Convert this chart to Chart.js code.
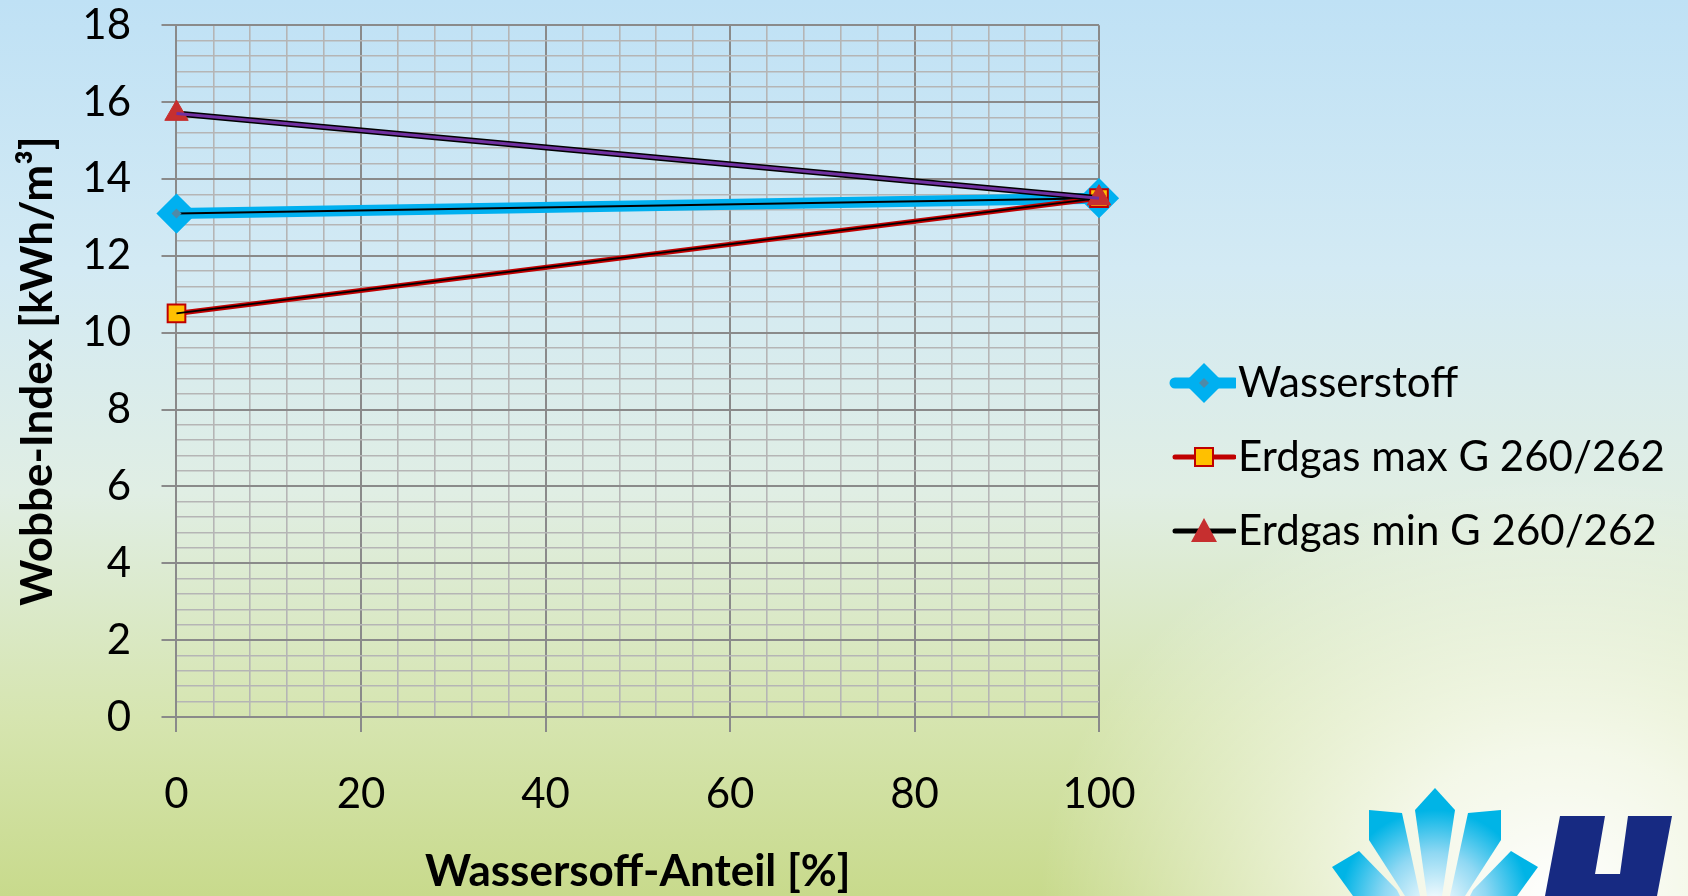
<!DOCTYPE html>
<html>
<head>
<meta charset="utf-8">
<script src="https://cdn.jsdelivr.net/npm/chart.js@4.4.1/dist/chart.umd.min.js"></script>
<style>
  html, body { margin: 0; padding: 0; }
  body {
    width: 1688px; height: 896px; overflow: hidden; position: relative;
    background:
      radial-gradient(ellipse 520px 420px at 1560px 896px, rgba(255,255,255,1) 0%, rgba(255,255,255,0.75) 35%, rgba(255,255,255,0) 100%),
      linear-gradient(to bottom, #bfe1f5 0%, #d3eaf4 30%, #e0eee4 55%, #d6e5b0 80%, #c8da8c 100%);
  }
  #logo { position: absolute; left: 0; top: 0; }
  #wrap { position: absolute; left: 0; top: 0; width: 1688px; height: 896px; }
</style>
</head>
<body>
<svg id="logo" width="1688" height="896">
  <defs>
    <radialGradient id="glow" cx="1435" cy="905" r="95" gradientUnits="userSpaceOnUse">
      <stop offset="0" stop-color="#ffffff"/>
      <stop offset="0.55" stop-color="#8fd8f3"/>
      <stop offset="1" stop-color="#00b4e6"/>
    </radialGradient>
  </defs>
  <g fill="url(#glow)">
    <polygon points="1435,788 1455,810 1442,896 1427,896 1415,810"/>
    <polygon points="1369,810 1402,813 1420,896 1405,896 1369,840"/>
    <polygon points="1332,867 1359,851 1397,890 1400,896 1353,896"/>
    <polygon points="1501,810 1468,813 1450,896 1465,896 1501,840"/>
    <polygon points="1538,867 1511,851 1473,890 1470,896 1517,896"/>
  </g>
  <polygon fill="#172a82" points="1560,816 1605,816 1595,874 1620,874 1628,816 1672,816 1657,896 1545,896"/>
</svg>
<div id="wrap"><canvas id="chart"></canvas></div>
<script>
// Werte
const xValues = [0, 100];
const wasserstoffValues = [13.1, 13.5];
const erdgasMaxValues = [10.5, 13.5];
const erdgasMinValues = [15.7, 13.5];
const seriesNames = ['Wasserstoff', 'Erdgas max G 260/262', 'Erdgas min G 260/262'];
const xMin = 0, xMax = 100, xMinorStep = 4, xMajorStep = 20;
const yMin = 0, yMax = 18, yMinorStep = 0.4, yMajorStep = 2;
const xTitle = 'Wassersoff-Anteil [%]';
const yTitle = 'Wobbe-Index [kWh/m³]';

const FONT = 'Lato';
const FS = 42;      // tick + legend
const TFS = 44;     // axis titles
Chart.defaults.font.family = FONT;
Chart.defaults.color = '#000';

const pts = vals => xValues.map((x, i) => ({ x: x, y: vals[i] }));
const isMajor = (v, step) => Math.abs(v / step - Math.round(v / step)) < 1e-6;

// measure text so the plot area lands where it is in the picture
const mctx = document.createElement('canvas').getContext('2d');
mctx.font = FS + 'px ' + FONT;
const legendTextW = Math.max(...seriesNames.map(s => mctx.measureText(s).width));
const yLabelW = mctx.measureText('18').width;

// legend icons: line segment plus marker, like the office legend
function legendIcon(kind) {
  const c = document.createElement('canvas');
  c.width = 124; c.height = 48;
  const g = c.getContext('2d');
  const cy = 24, x0 = 63, x1 = 122, mx = 92;
  g.lineCap = 'round';
  const seg = (color, w) => { g.strokeStyle = color; g.lineWidth = w; g.beginPath(); g.moveTo(x0, cy); g.lineTo(x1, cy); g.stroke(); };
  if (kind === 0) {
    seg('#00b0f0', 11);
    g.fillStyle = '#00b0f0';
    g.beginPath(); g.moveTo(mx, cy - 20); g.lineTo(mx + 20, cy); g.lineTo(mx, cy + 20); g.lineTo(mx - 20, cy); g.closePath(); g.fill();
    g.fillStyle = '#4f8aa8';
    g.beginPath(); g.moveTo(mx, cy - 5); g.lineTo(mx + 5, cy); g.lineTo(mx, cy + 5); g.lineTo(mx - 5, cy); g.closePath(); g.fill();
  } else if (kind === 1) {
    seg('#c00000', 5);
    g.fillStyle = '#ffc000'; g.strokeStyle = '#c00000'; g.lineWidth = 2;
    g.fillRect(mx - 9, cy - 9, 18, 18); g.strokeRect(mx - 9, cy - 9, 18, 18);
  } else {
    seg('#000000', 5);
    g.fillStyle = '#c62f2f';
    g.beginPath(); g.moveTo(mx, cy - 13); g.lineTo(mx + 13, cy + 11); g.lineTo(mx - 13, cy + 11); g.closePath(); g.fill();
  }
  return c;
}
const icons = [legendIcon(0), legendIcon(1), legendIcon(2)];

const base = { fill: false, clip: false, tension: 0 };

new Chart(document.getElementById('chart'), {
  type: 'line',
  data: {
    datasets: [
      Object.assign({}, base, {
        label: seriesNames[0], data: pts(wasserstoffValues), order: 5,
        borderColor: '#00b0f0', borderWidth: 11,
        pointStyle: 'rectRot', pointRadius: 18, pointBackgroundColor: '#00b0f0', pointBorderColor: '#00b0f0', pointBorderWidth: 3
      }),
      Object.assign({}, base, {
        label: '_w', data: pts(wasserstoffValues), order: 4,
        borderColor: '#000000', borderWidth: 2,
        pointStyle: 'rectRot', pointRadius: 5, pointBackgroundColor: '#4f8aa8', pointBorderWidth: 0
      }),
      Object.assign({}, base, {
        label: seriesNames[1], data: pts(erdgasMaxValues), order: 3,
        borderColor: '#c00000', borderWidth: 5,
        pointStyle: 'rect', pointRadius: 12.5, pointBackgroundColor: '#ffc000', pointBorderColor: '#c00000', pointBorderWidth: 2
      }),
      Object.assign({}, base, {
        label: '_max', data: pts(erdgasMaxValues), order: 2,
        borderColor: '#000000', borderWidth: 1.8, pointRadius: 0
      }),
      Object.assign({}, base, {
        label: seriesNames[2], data: pts(erdgasMinValues), order: 1,
        borderColor: '#000000', borderWidth: 6,
        pointStyle: 'triangle', pointRadius: 13.5, pointBackgroundColor: '#c62f2f', pointBorderColor: '#c62f2f', pointBorderWidth: 1
      }),
      Object.assign({}, base, {
        label: '_min', data: pts(erdgasMinValues), order: 0,
        borderColor: '#7030a0', borderWidth: 3, pointRadius: 0
      })
    ]
  },
  options: {
    responsive: true,
    maintainAspectRatio: false,
    animation: false,
    events: [],
    layout: { padding: { left: 11.6, top: 18, right: 440 - legendTextW, bottom: 0 } },
    plugins: {
      tooltip: { enabled: false },
      legend: {
        position: 'right',
        align: 'center',
        maxWidth: 800,
        labels: {
          usePointStyle: true,
          pointStyleWidth: 86,
          padding: 32,
          color: '#000',
          font: { size: FS },
          generateLabels: () => seriesNames.map((name, i) => ({
            text: name, pointStyle: icons[i], fillStyle: 'transparent', strokeStyle: 'transparent',
            lineWidth: 0, hidden: false, datasetIndex: i * 2, fontColor: '#000'
          }))
        }
      }
    },
    scales: {
      x: {
        type: 'linear', min: xMin, max: xMax,
        border: { color: '#8a8a8a', width: 2 },
        grid: {
          color: c => isMajor(c.tick.value, xMajorStep) ? '#8a8a8a' : '#b5b5b5',
          lineWidth: c => isMajor(c.tick.value, xMajorStep) ? 2 : 1.6,
          tickColor: c => isMajor(c.tick.value, xMajorStep) ? '#8a8a8a' : 'rgba(0,0,0,0)',
          tickLength: 15
        },
        ticks: {
          stepSize: xMinorStep, autoSkip: false, maxRotation: 0, padding: 37.5,
          font: { size: FS }, color: '#000',
          callback: v => isMajor(v, xMajorStep) ? String(v) : ''
        },
        title: {
          display: true, text: xTitle, color: '#000',
          font: { size: TFS, weight: 'bold' },
          padding: { top: -12.1, bottom: -2.1 }
        }
      },
      y: {
        type: 'linear', min: yMin, max: yMax,
        border: { color: '#8a8a8a', width: 2 },
        grid: {
          color: c => isMajor(c.tick.value, yMajorStep) ? '#8a8a8a' : '#b5b5b5',
          lineWidth: c => isMajor(c.tick.value, yMajorStep) ? 2 : 1.6,
          tickColor: c => isMajor(c.tick.value, yMajorStep) ? '#8a8a8a' : 'rgba(0,0,0,0)',
          // long tick offset, only the last 15px are drawn
          tickLength: 45.5,
          tickBorderDash: [15, 30.5],
          tickBorderDashOffset: 15
        },
        ticks: {
          stepSize: yMinorStep, autoSkip: false, padding: 0,
          font: { size: FS }, color: '#000',
          callback: v => isMajor(v, yMajorStep) ? String(Math.round(v)) : ''
        },
        title: {
          display: true, text: yTitle, color: '#000',
          font: { size: TFS, weight: 'bold' },
          padding: { top: 0, bottom: 66.6 - yLabelW }
        }
      }
    }
  }
});
</script>
</body>
</html>
